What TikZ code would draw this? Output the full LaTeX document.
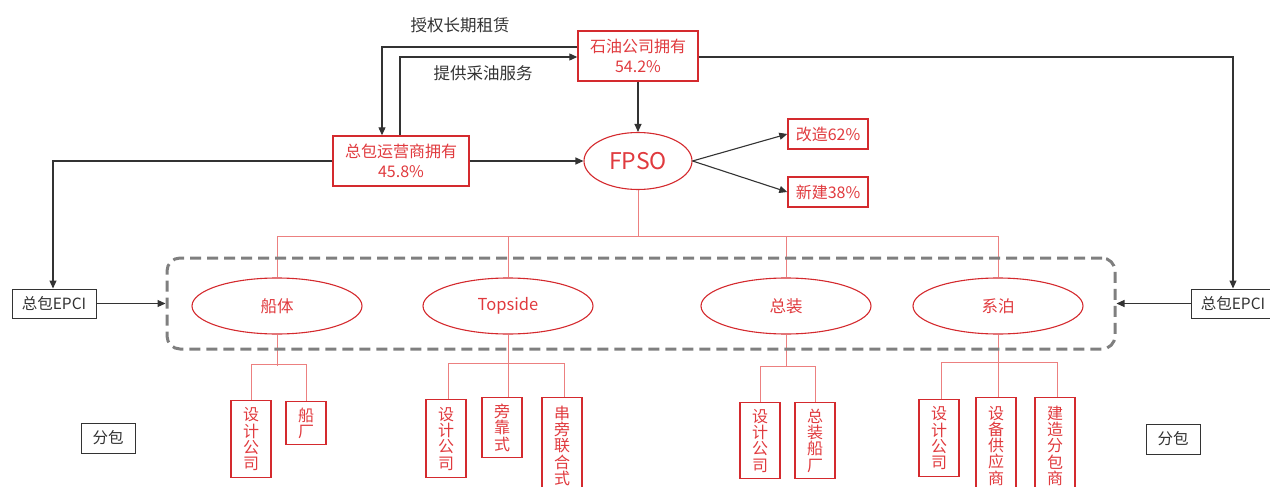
\documentclass[tikz,border=0pt]{standalone}
\usepackage{fontspec}
\setmainfont{Noto Sans CJK SC}
\usetikzlibrary{arrows.meta,shapes.geometric}
\definecolor{cred}{HTML}{D42A2E}
\definecolor{ctext}{HTML}{E03A3E}
\definecolor{lred}{HTML}{EC8080}
\definecolor{cdark}{HTML}{333333}
\definecolor{cgray}{HTML}{7F7F7F}
\begin{document}
\begin{tikzpicture}[x=1pt,y=-1pt,
  rbox/.style={draw=cred, line width=1.4pt, text=ctext, inner sep=0pt, align=center,
    font=\fontsize{16}{19.5}\selectfont},
  vbox/.style={draw=cred, line width=1.4pt, text=ctext, inner sep=0pt, align=center,
    minimum width=40pt, anchor=north, font=\fontsize{16}{16.3}\selectfont},
  rell/.style={ellipse, draw=cred, line width=1.1pt, text=ctext, inner sep=0pt,
    minimum width=170pt, minimum height=56pt, font=\fontsize{16.5}{18}\selectfont},
  kbox/.style={draw=cdark, line width=1pt, text=cdark, inner sep=0pt,
    font=\fontsize{15.5}{18}\selectfont},
  arr/.style={draw=cdark, line width=1.1pt, -{Triangle[length=8pt,width=7pt]}},
  tree/.style={draw=lred, line width=0.9pt},
  lbl/.style={text=cdark, inner sep=0pt, font=\fontsize{16.5}{18}\selectfont},
  grpbox/.style={draw=cgray, line width=3pt, dash pattern=on 11pt off 6pt,
    rounded corners=13pt, inner sep=0pt}
]
\clip (0,0) rectangle (1270,487);
\useasboundingbox (0,0) rectangle (1270,487);

% top level
\node[rbox, minimum width=120pt, minimum height=50pt] (oil) at (638,56) {石油公司拥有\\54.2\%};
\node[rbox, minimum width=136pt, minimum height=50pt] (op) at (401,161) {总包运营商拥有\\45.8\%};
\node[ellipse, draw=cred, line width=1.1pt, text=ctext, inner sep=0pt,
  minimum width=108pt, minimum height=57pt, font=\fontsize{23}{24}\selectfont] (fpso) at (638,161) {FPSO};
\node[rbox, minimum width=80pt, minimum height=30pt] (gz) at (828,134) {改造62\%};
\node[rbox, minimum width=80pt, minimum height=30pt] (xj) at (828,192) {新建38\%};
\node[lbl] (l1) at (460,25) {授权长期租赁};
\node[lbl] (l2) at (483,73) {提供采油服务};

\node[kbox, minimum width=84pt, minimum height=29pt] (epcl) at (54,303.5) {总包EPCI};
\node[kbox, minimum width=84pt, minimum height=29pt] (epcr) at (1233,303.5) {总包EPCI};
\node[kbox, minimum width=54pt, minimum height=30pt] (fbl) at (108,438) {分包};
\node[kbox, minimum width=54pt, minimum height=30pt] (fbr) at (1173,439) {分包};

% ellipses
\node[rell] (hull) at (277,306) {船体};
\node[rell] (tops) at (508,306) {Topside};
\node[rell] (zz) at (786,306) {总装};
\node[rell] (xb) at (998,306) {系泊};

% sub boxes
\node[vbox, minimum height=77pt] (h1) at (251,400) {设\\计\\公\\司};
\node[vbox, minimum height=43pt] (h2) at (306,401) {船\\厂};
\node[vbox, minimum height=78pt] (t1) at (446,399) {设\\计\\公\\司};
\node[vbox, minimum height=60pt] (t2) at (502,397) {旁\\靠\\式};
\node[vbox, minimum height=96pt] (t3) at (562,397) {串\\旁\\联\\合\\式};
\node[vbox, minimum height=76pt] (z1) at (760,402) {设\\计\\公\\司};
\node[vbox, minimum height=76pt] (z2) at (815,402) {总\\装\\船\\厂};
\node[vbox, minimum height=77pt] (x1) at (939,399) {设\\计\\公\\司};
\node[vbox, minimum height=96pt] (x2) at (996,397) {设\\备\\供\\应\\商};
\node[vbox, minimum height=96pt] (x3) at (1055,397) {建\\造\\分\\包\\商};

% red tree
\draw[tree] (fpso.south) -- (fpso.south |- 0,236);
\draw[tree] (hull.north) -- (hull.north |- 0,236) -- (xb.north |- 0,236) -- (xb.north);
\draw[tree] (tops.north) -- (tops.north |- 0,236);
\draw[tree] (zz.north) -- (zz.north |- 0,236);

\draw[tree] (hull.south) -- (hull.south |- 0,366);
\draw[tree] (h1.north) -- (h1.north |- 0,364) -- (h2.north |- 0,364) -- (h2.north);
\draw[tree] (tops.south) -- (tops.south |- t2.north);
\draw[tree] ([xshift=2pt]t1.north) -- ([xshift=2pt]t1.north |- 0,363) -- ([xshift=2pt]t3.north |- 0,363) -- ([xshift=2pt]t3.north);
\draw[tree] (zz.south) -- (zz.south |- 0,367);
\draw[tree] (z1.north) -- (z1.north |- 0,366) -- (z2.north |- 0,366) -- (z2.north);
\draw[tree] (xb.south) -- (xb.south |- x2.north);
\draw[tree] ([xshift=2pt]x1.north) -- ([xshift=2pt]x1.north |- 0,362) -- ([xshift=2pt]x3.north |- 0,362) -- ([xshift=2pt]x3.north);

% dashed group
\node[grpbox, minimum width=948pt, minimum height=91pt] (grp) at (641,303.5) {};

% black arrows
\draw[arr] (oil.west |- 0,47) -| ([xshift=-19pt]op.north);
\draw[arr] ([xshift=-1pt]op.north) |- ([yshift=-1pt]oil.west);
\draw[arr] ([yshift=-1pt]oil.east) -| (epcr.north);
\draw[arr] (oil.south) -- (fpso.north);
\draw[arr] (op.east) -- (fpso.west);
\draw[arr] (op.west) -| ([xshift=-1pt]epcl.north);
\draw[arr] (fpso.east) -- (gz.west);
\draw[arr] (fpso.east) -- (xj.west);
\draw[arr] (epcl.east) -- (grp.west);
\draw[arr] (epcr.west) -- (grp.east);
\end{tikzpicture}
\end{document}
